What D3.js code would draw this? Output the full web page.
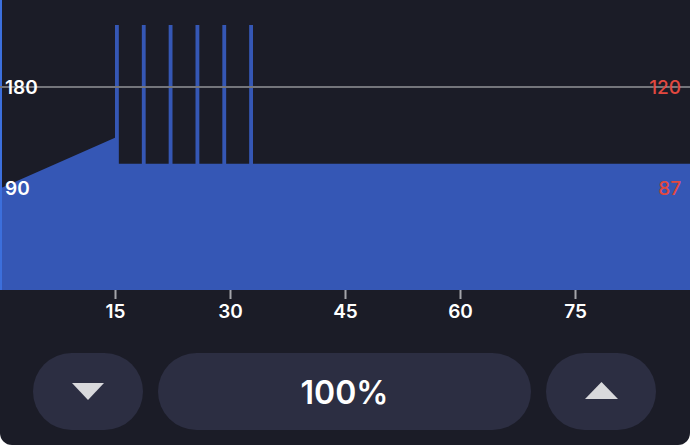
<!DOCTYPE html>
<html>
<head>
<meta charset="utf-8">
<script src="https://cdn.jsdelivr.net/npm/d3@7"></script>
<style>
  html, body { margin: 0; padding: 0; background: #ffffff; }
  svg { display: block; }
</style>
</head>
<body>
<svg id="chart" width="690" height="445"></svg>
<script>
// ---- data ----
const times = [0, 15, 15, 15.5, 15.5, 18.5, 18.5, 19, 19, 22, 22, 22.5, 22.5, 25.5, 25.5, 26, 26, 29, 29, 29.5, 29.5, 32.5, 32.5, 33, 33, 90];
const power = [90, 135, 235, 235, 112, 112, 235, 235, 112, 112, 235, 235, 112, 112, 235, 235, 112, 112, 235, 235, 112, 112, 235, 235, 112, 112];
const xTicks = [15, 30, 45, 60, 75];
const leftTicks = [90, 180];
const rightTicks = [87, 120];
const zoomLabel = "100%";

// ---- layout ----
const W = 690, H = 445;
const plotBottom = 290;
const FONT = "Inter, 'Noto Sans', sans-serif";
const svg = d3.select("#chart");

// card background with rounded bottom corners
svg.append("rect").attr("x", 0).attr("y", -20).attr("width", W).attr("height", H + 20)
  .attr("rx", 12).attr("fill", "#1b1c27");

const x = d3.scaleLinear().domain([0, 90]).range([0, W]);
const y = d3.scaleLinear().domain([0, 180]).range([plotBottom, 87]);
const yR = d3.scaleLinear().domain([87, 120]).range([188.5, 87]);

const pts = times.map((t, i) => ({ t, p: power[i] }));
const area = d3.area().x(d => x(d.t)).y0(y(0)).y1(d => y(d.p));

svg.append("path").datum(pts).attr("d", area).attr("fill", "#3557b5");

// cursor line at start
svg.append("line").attr("x1", x(0) + 1).attr("x2", x(0) + 1).attr("y1", 0).attr("y2", plotBottom)
  .attr("stroke", "#3c6fdc").attr("stroke-width", 2);

// grid line
svg.append("line").attr("x1", 0).attr("x2", W).attr("y1", y(180)).attr("y2", y(180))
  .attr("stroke", "#74757b").attr("stroke-width", 2);

// bottom axis
const xAxis = d3.axisBottom(x).tickValues(xTicks).tickSize(9).tickPadding(6).tickFormat(d3.format("d"));
const gx = svg.append("g").attr("transform", `translate(0,${plotBottom})`).call(xAxis);
gx.select(".domain").remove();
gx.selectAll(".tick line").attr("stroke", "#a4a5ab").attr("stroke-width", 2);
gx.selectAll(".tick text").attr("fill", "#ffffff").attr("font-size", 19)
  .attr("font-family", FONT).attr("font-weight", 600);

// left labels
const yAxis = d3.axisRight(y).tickValues(leftTicks).tickSize(0).tickPadding(5);
const gy = svg.append("g").call(yAxis);
gy.select(".domain").remove();
gy.selectAll(".tick text").attr("fill", "#ffffff").attr("font-size", 19)
  .attr("font-family", FONT).attr("font-weight", 600);

// right labels
const yRAxis = d3.axisLeft(yR).tickValues(rightTicks).tickSize(0).tickPadding(9);
const gyr = svg.append("g").attr("transform", `translate(${W},0)`).call(yRAxis);
gyr.select(".domain").remove();
gyr.selectAll(".tick text").attr("fill", "#e2483f").attr("font-size", 19)
  .attr("font-family", FONT).attr("font-weight", 500);

// controls
const btnY = 353, btnH = 77;
const ctrl = svg.append("g");
ctrl.append("rect").attr("x", 33).attr("y", btnY).attr("width", 110).attr("height", btnH)
  .attr("rx", 38.5).attr("fill", "#2c2e42");
ctrl.append("rect").attr("x", 158).attr("y", btnY).attr("width", 373).attr("height", btnH)
  .attr("rx", 38.5).attr("fill", "#2c2e42");
ctrl.append("rect").attr("x", 546).attr("y", btnY).attr("width", 110).attr("height", btnH)
  .attr("rx", 38.5).attr("fill", "#2c2e42");
ctrl.append("path").attr("d", "M72,383 L104,383 L88,400 Z").attr("fill", "#d9d9dc");
ctrl.append("path").attr("d", "M585,399 L618,399 L601.5,382 Z").attr("fill", "#d9d9dc");
ctrl.append("text").attr("x", 344.5).attr("y", 392).attr("text-anchor", "middle")
  .attr("dominant-baseline", "central").attr("fill", "#ffffff").attr("font-size", 32)
  .attr("font-weight", 600).attr("font-family", FONT).text(zoomLabel);
</script>
</body>
</html>
